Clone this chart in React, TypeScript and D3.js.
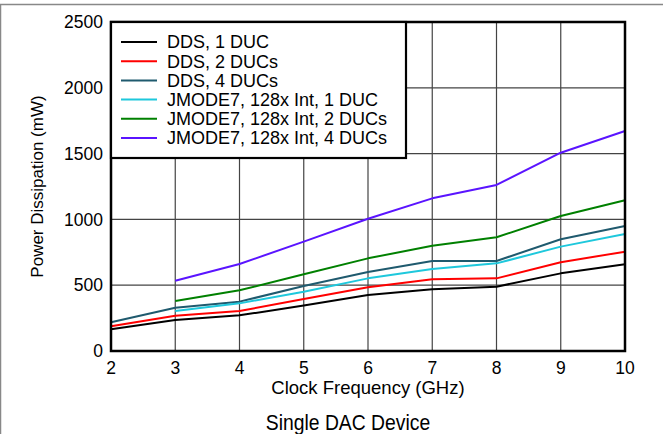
import React from "react";
import * as d3 from "d3";

const freqs = [2, 3, 4, 5, 6, 7, 8, 9, 10];
const seriesNames = [
  "DDS, 1 DUC",
  "DDS, 2 DUCs",
  "DDS, 4 DUCs",
  "JMODE7, 128x Int, 1 DUC",
  "JMODE7, 128x Int, 2 DUCs",
  "JMODE7, 128x Int, 4 DUCs",
];
const seriesColors = ["#000000", "#ff0000", "#1f5a6e", "#1ec8dc", "#008000", "#5a14ff"];
const dds1 = [165, 236, 271, 345, 425, 469, 489, 590, 659];
const dds2 = [188, 268, 304, 395, 485, 545, 552, 674, 755];
const dds4 = [218, 329, 375, 494, 600, 684, 684, 849, 950];
const jm1 = [null, 304, 362, 451, 552, 623, 666, 793, 889];
const jm2 = [null, 380, 461, 583, 704, 800, 864, 1026, 1145];
const jm4 = [null, 534, 661, 831, 1005, 1160, 1262, 1507, 1672];
const seriesValues = [dds1, dds2, dds4, jm1, jm2, jm4];
const xTicks = [2, 3, 4, 5, 6, 7, 8, 9, 10];
const yTicks = [0, 500, 1000, 1500, 2000, 2500];

const W = 663, H = 434;
const L = 111, R = 625, T = 22, B = 351;
const FONT = "'Liberation Sans', Arial, sans-serif";

export default function App() {
  const x = d3.scaleLinear().domain([2, 10]).range([L, R]);
  const y = d3.scaleLinear().domain([0, 2500]).range([B, T]);
  const line = d3
    .line<[number, number | null]>()
    .defined((d) => d[1] != null)
    .x((d) => x(d[0]))
    .y((d) => y(d[1] as number));

  const legX = L, legY = T, legW = 295, legH = 136;

  return (
    <svg
      width={W}
      height={H}
      style={{ position: "absolute", left: 0, top: 0, background: "#fff" }}
      fontFamily={FONT}
    >
      <rect x={0} y={0} width={W} height={H} fill="#fff" />
      <rect x={0.5} y={4.5} width={W + 20} height={H + 20} fill="none" stroke="#888" strokeWidth={1.5} />
      {/* grid */}
      {xTicks.slice(1, -1).map((t) => (
        <line key={"gx" + t} x1={x(t)} x2={x(t)} y1={T} y2={B} stroke="#444" strokeWidth={1.2} />
      ))}
      {yTicks.slice(1, -1).map((t) => (
        <line key={"gy" + t} x1={L} x2={R} y1={y(t)} y2={y(t)} stroke="#444" strokeWidth={1.2} />
      ))}
      {/* series */}
      {seriesValues.map((vals, i) => (
        <path
          key={"s" + i}
          d={line(freqs.map((f, j) => [f, vals[j]]) as [number, number | null][]) || ""}
          fill="none"
          stroke={seriesColors[i]}
          strokeWidth={2}
          strokeLinejoin="round"
        />
      ))}
      {/* frame */}
      <rect x={L} y={T} width={R - L} height={B - T} fill="none" stroke="#000" strokeWidth={2.5} />
      {/* legend */}
      <rect x={legX} y={legY} width={legW} height={legH} fill="#fff" stroke="#000" strokeWidth={2.2} />
      {seriesNames.map((n, i) => {
        const yy = 42 + i * 19.2;
        return (
          <g key={"l" + i}>
            <line x1={121} x2={157} y1={yy} y2={yy} stroke={seriesColors[i]} strokeWidth={2} />
            <text x={167} y={yy} dy="0.35em" fontSize={18} fill="#000">
              {n}
            </text>
          </g>
        );
      })}
      {/* y ticks */}
      {yTicks.map((t) => (
        <text key={"yt" + t} x={103} y={y(t)} dy="0.35em" textAnchor="end" fontSize={17.5}>
          {t}
        </text>
      ))}
      {xTicks.map((t) => (
        <text key={"xt" + t} x={x(t)} y={368} dy="0.35em" textAnchor="middle" fontSize={17.5}>
          {t}
        </text>
      ))}
      <text x={368} y={388} dy="0.35em" textAnchor="middle" fontSize={18.5}>
        Clock Frequency (GHz)
      </text>
      <text
        transform={`translate(37,${(T + B) / 2}) rotate(-90)`}
        textAnchor="middle"
        dy="0.35em"
        fontSize={17}
      >
        Power Dissipation (mW)
      </text>
      <text
        transform="translate(348,422) scale(0.86,1)"
        dy="0.35em"
        textAnchor="middle"
        fontSize={22.5}
      >
        Single DAC Device
      </text>
    </svg>
  );
}
